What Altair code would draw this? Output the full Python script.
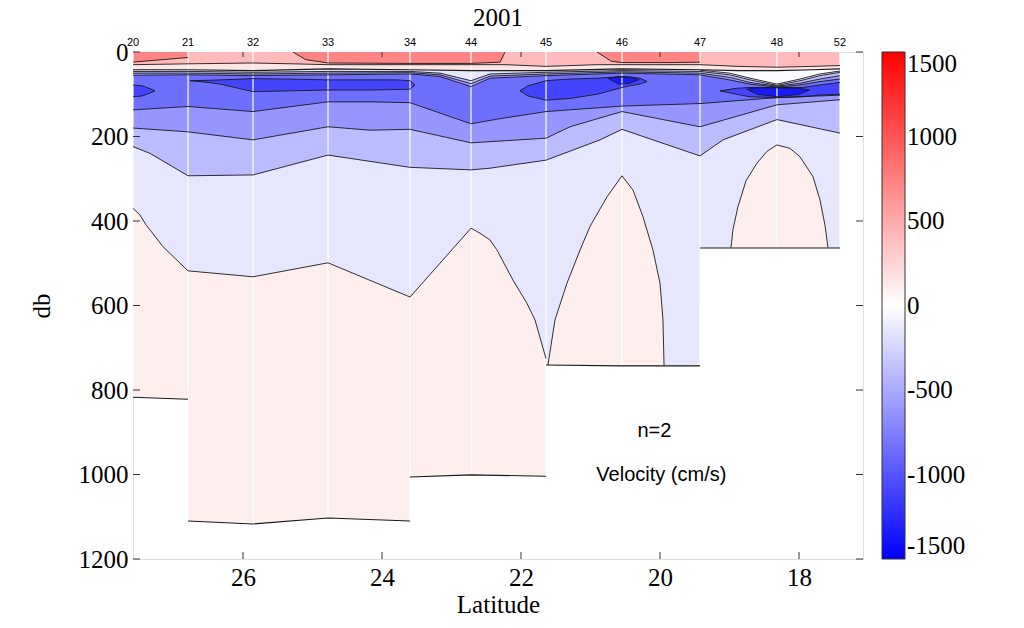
import altair as alt
import pandas as pd

# ---------------- data ----------------
TITLE = "2001"
STATIONS = ["20", "21", "32", "33", "34", "44", "45", "46", "47", "48", "52"]
STATION_LAT = [27.583, 26.791, 25.856, 24.777, 23.597, 22.719, 21.640, 20.547, 19.424, 18.317, 17.410]
STATION_BOTTOM = [817, 1110, 1117, 1103, 1110, 1004, 1004, 743, 743, 464, 464]

X_DOMAIN = [27.583, 17.079]
X_TICKS = [26, 24, 22, 20, 18]
Y_TICKS = [0, 200, 400, 600, 800, 1000, 1200]
CBAR_TICKS = [-1500, -1000, -500, 0, 500, 1000, 1500]

# bottom of the data, one piece per station interval
BOTTOM_SEGMENTS = [
    ([27.583, 26.791], [817, 822]),
    ([26.791, 25.856, 24.777, 23.597], [1110, 1117, 1103, 1110]),
    ([23.597, 22.719, 21.640], [1006, 1001, 1004]),
    ([21.640, 20.547, 19.424], [741, 743, 743]),
    ([19.424, 18.317, 17.410], [464, 464, 464]),
]

# lower boundaries of filled bands painted from the surface
B1_LAT = [27.583, 27.482, 27.400, 27.151, 26.791, 25.856, 24.777, 23.597, 22.719, 22.590, 22.446, 22.345,
          22.115, 21.914, 21.799, 21.641, 21.612, 21.511, 21.338, 21.151, 21.007, 20.763, 20.547, 20.388,
          20.245, 20.101, 20.000, 19.957, 19.942, 19.425, 19.423, 18.978, 18.950, 18.878, 18.763, 18.604,
          18.460, 18.317, 18.130, 17.986, 17.799, 17.698, 17.626, 17.583, 17.410]
B1_DB = [370, 386, 408, 461, 518, 532, 499, 580, 417, 429, 445, 469,
         540, 595, 634, 725, 741, 634, 547, 469, 413, 343, 293, 327,
         390, 469, 547, 634, 741, 743, 464, 463, 420, 366, 305, 263,
         235, 220, 228, 248, 295, 350, 410, 463, 464]

B2_LAT = [27.583, 27.338, 26.791, 25.856, 24.777, 23.597, 22.719, 22.446, 21.640, 20.863, 20.547, 19.424,
          19.094, 18.317, 17.410]
B2_DB = [224, 240, 293, 291, 244, 273, 279, 275, 256, 208, 183, 246, 208, 160, 192]

B3_LAT = [27.583, 26.791, 25.856, 24.777, 24.173, 23.597, 22.719, 21.640, 21.295, 20.547, 19.424, 18.317, 17.410]
B3_DB = [180, 189, 208, 177, 185, 183, 215, 204, 177, 141, 177, 125, 113]

B4_LAT = [27.583, 26.791, 25.856, 24.777, 24.173, 23.597, 22.719, 22.345, 21.640, 20.547, 19.424, 18.317, 17.410]
B4_DB = [137, 129, 141, 118, 118, 120, 170, 159, 141, 128, 122, 108, 102]

TOP_LAT = [27.583, 26.791, 25.856, 24.777, 23.597, 23.165, 22.719, 22.446, 21.640, 20.547, 19.424, 19.000,
           18.705, 18.317, 17.986, 17.698, 17.410]
T4_DB = [55, 54, 56, 54, 52, 58, 82, 62, 56, 50, 54, 66, 76, 83, 78, 70, 64]
T3_DB = [50, 50, 52, 50, 49, 54, 75, 57, 52, 47, 50, 60, 72, 81, 74, 64, 56]
T2_DB = [46, 46, 48, 46, 46, 50, 68, 52, 48, 44, 46, 54, 66, 79, 68, 56, 48]

W_LAT = [19.424, 19.000, 18.705, 18.317, 17.986, 17.698, 17.410]
W_DB = [43, 50, 62, 76, 64, 52, 45]

Z_LAT = [27.583, 26.791, 25.856, 24.777, 23.597, 22.719, 21.640, 20.547, 19.424, 18.878, 18.317, 17.799, 17.410]
Z_DB = [42, 42, 44, 40, 42, 44, 44, 40, 42, 44, 44, 42, 40]

P2_LAT = [27.583, 26.791, 25.856, 25.281, 24.777, 23.597, 22.719, 22.230, 21.640, 20.906, 20.547, 19.424,
          18.878, 18.317, 17.799, 17.410]
P2_DB = [30, 28, 26, 28, 30, 30, 30, 30, 34, 30, 30, 30, 34, 36, 34, 32]

RED_A_LAT = [27.583, 26.791]
RED_A_DB = [24, 13]
RED_B_LAT = [25.281, 25.100, 24.777, 23.597, 22.719, 22.300, 22.230]
RED_B_DB = [0, 18, 26, 27, 27, 24, 0]
RED_C_LAT = [20.906, 20.700, 20.547, 19.800, 19.424]
RED_C_DB = [0, 22, 25, 25, 24]

# lens-shaped cores (lats, top depth, bottom depth)
C1_LAT = [27.583, 27.450, 27.350, 27.266]
C1_TOP = [78, 80, 86, 92]
C1_BOT = [106, 104, 98, 92]
C2_LAT = [26.763, 26.500, 26.331, 25.856, 25.324, 24.777, 24.173, 23.800, 23.597, 23.525]
C2_TOP = [68, 67, 66, 63, 64, 66, 66, 66, 68, 78]
C2_BOT = [68, 72, 76, 94, 92, 90, 90, 89, 88, 78]
C3_LAT = [22.014, 21.900, 21.640, 21.295, 20.906, 20.720, 20.547, 20.432, 20.288, 20.187]
C3_TOP = [92, 80, 68, 64, 62, 60, 58, 59, 62, 70]
C3_BOT = [92, 104, 114, 110, 100, 92, 84, 80, 76, 70]
C3B_LAT = [20.750, 20.600, 20.432, 20.300]
C3B_TOP = [62, 59, 60, 65]
C3B_BOT = [62, 76, 74, 65]
C4_LAT = [19.137, 18.900, 18.705, 18.317, 17.957, 17.700, 17.410]
C4_TOP = [92, 86, 84, 84, 84, 78, 72]
C4_BOT = [92, 100, 106, 108, 106, 102, 100]
C4B_LAT = [18.750, 18.600, 18.317, 18.000, 17.850]
C4B_TOP = [88, 85, 85, 86, 90]
C4B_BOT = [88, 100, 106, 100, 90]

# band values (cm/s)
V_BASE, V_L1, V_L2, V_L3, V_L4 = 100, -150, -400, -620, -850
V_C, V_CB = -1100, -1350
V_W, V_P1, V_P2, V_P3 = -30, 150, 400, 720

NOTE_TEXT = ["n=2", "Velocity (cm/s)"]
NOTE_LAT = [20.08, 19.98]
NOTE_DB = [898, 1000]

# ---------------- chart ----------------
SERIF = "Liberation Serif"
SANS = "Liberation Sans"
PLAIN = "'' + datum.value"

xscale = alt.Scale(domain=X_DOMAIN, nice=False, zero=False)
yscale = alt.Scale(domain=[0, 1200], reverse=True, nice=False, zero=False)
X = alt.X("lat:Q", scale=xscale,
          axis=alt.Axis(values=X_TICKS, title="Latitude", labelFont=SERIF, labelFontSize=25,
                        titleFont=SERIF, titleFontSize=25, titleFontWeight="normal", tickSize=0,
                        domain=False, grid=False, labelPadding=6, titlePadding=2, labelExpr=PLAIN,
                        labelColor="black", titleColor="black"))
YAX = alt.Axis(values=Y_TICKS, title="db", labelFont=SERIF, labelFontSize=25, titleFont=SERIF,
               titleFontSize=25, titleFontWeight="normal", tickSize=0, domain=False, grid=False,
               labelPadding=5, titlePadding=24, labelExpr=PLAIN, labelColor="black", titleColor="black")
COLOR = alt.Color("v:Q",
                  scale=alt.Scale(domain=[-1500, 0, 1500], range=["#0000ff", "#ffffff", "#ff0000"],
                                  interpolate="rgb"),
                  legend=alt.Legend(title=None, orient="none", legendX=749, legendY=0,
                                    direction="vertical", gradientLength=507, gradientThickness=23,
                                    values=CBAR_TICKS, labelFont=SERIF, labelFontSize=25,
                                    labelColor="black", labelOffset=2, labelOverlap=False,
                                    labelExpr=PLAIN,
                                    gradientStrokeColor="#333", gradientStrokeWidth=1))


def band(lats, tops, bots, value):
    df = pd.DataFrame({"lat": lats, "top": tops, "bot": bots, "v": [value] * len(lats)})
    return alt.Chart(df).mark_area(interpolate="linear", clip=True, strokeWidth=0).encode(
        x=X, y=alt.Y("top:Q", scale=yscale, axis=YAX), y2="bot:Q", color=COLOR)


def surface_band(lats, bots, value):
    return band(lats, [0] * len(lats), bots, value)


def cline(lats, depths, width=0.9):
    df = pd.DataFrame({"lat": lats, "d": depths})
    return alt.Chart(df).mark_line(color="#1a1a1a", strokeWidth=width, clip=True).encode(
        x=X, y=alt.Y("d:Q", scale=yscale, axis=YAX))


# continuous bottom profile (steps at stations)
bot_lat, bot_db = [], []
for i, (la, dd) in enumerate(BOTTOM_SEGMENTS):
    la = list(la)
    if i > 0:
        la[0] = la[0] - 0.002
    bot_lat += la
    bot_db += list(dd)

layers = [
    surface_band(bot_lat, bot_db, V_BASE),
    surface_band(B1_LAT, B1_DB, V_L1),
    surface_band(B2_LAT, B2_DB, V_L2),
    surface_band(B3_LAT, B3_DB, V_L3),
    surface_band(B4_LAT, B4_DB, V_L4),
    surface_band(TOP_LAT, T4_DB, V_L3),
    surface_band(TOP_LAT, T3_DB, V_L2),
    surface_band(TOP_LAT, T2_DB, V_L1),
    surface_band(W_LAT, W_DB, V_W),
    surface_band(Z_LAT, Z_DB, V_P1),
    surface_band(P2_LAT, P2_DB, V_P2),
    surface_band(RED_A_LAT, RED_A_DB, V_P3),
    surface_band(RED_B_LAT, RED_B_DB, V_P3),
    surface_band(RED_C_LAT, RED_C_DB, V_P3),
    band(C1_LAT, C1_TOP, C1_BOT, V_C),
    band(C2_LAT, C2_TOP, C2_BOT, V_C),
    band(C3_LAT, C3_TOP, C3_BOT, V_C),
    band(C3B_LAT, C3B_TOP, C3B_BOT, V_CB),
    band(C4_LAT, C4_TOP, C4_BOT, V_C),
    band(C4B_LAT, C4B_TOP, C4B_BOT, V_CB),
]

# white station lines
st_df = pd.DataFrame({"lat": STATION_LAT, "d0": [0] * len(STATION_LAT), "d1": STATION_BOTTOM,
                      "name": STATIONS})
layers.append(alt.Chart(st_df).mark_rule(color="white", strokeWidth=1.2, clip=True).encode(
    x=X, y=alt.Y("d0:Q", scale=yscale, axis=YAX), y2="d1:Q"))

# contour lines
for la, dd in BOTTOM_SEGMENTS:
    layers.append(cline(la, dd, 1.1))
k_tip = B1_LAT.index(21.641)
k_foot = B1_LAT.index(19.942)
k_arch = B1_LAT.index(18.978)
k_arch_end = B1_LAT.index(17.583)
layers.append(cline(B1_LAT[:k_tip + 1], B1_DB[:k_tip + 1]))
layers.append(cline(B1_LAT[k_tip + 1:k_foot + 1], B1_DB[k_tip + 1:k_foot + 1]))
layers.append(cline(B1_LAT[k_arch:k_arch_end + 1], B1_DB[k_arch:k_arch_end + 1]))
layers.append(cline(B2_LAT, B2_DB))
layers.append(cline(B3_LAT, B3_DB))
layers.append(cline(B4_LAT, B4_DB))
layers.append(cline(TOP_LAT, T4_DB))
layers.append(cline(TOP_LAT, T3_DB))
layers.append(cline(TOP_LAT, T2_DB))
layers.append(cline(W_LAT, W_DB))
layers.append(cline(Z_LAT, Z_DB, 1.2))
layers.append(cline(P2_LAT, P2_DB))
layers.append(cline(RED_A_LAT, RED_A_DB))
layers.append(cline(RED_B_LAT, RED_B_DB))
layers.append(cline(RED_C_LAT, RED_C_DB))
for la, tp, bt in [(C1_LAT, C1_TOP, C1_BOT), (C2_LAT, C2_TOP, C2_BOT), (C3_LAT, C3_TOP, C3_BOT),
                   (C3B_LAT, C3B_TOP, C3B_BOT), (C4_LAT, C4_TOP, C4_BOT), (C4B_LAT, C4B_TOP, C4B_BOT)]:
    layers.append(cline(la, tp))
    layers.append(cline(la, bt))

# inward ticks on the frame
yt = pd.DataFrame({"d": Y_TICKS})
layers.append(alt.Chart(yt).mark_rule(color="#333").encode(
    y=alt.Y("d:Q", scale=yscale, axis=YAX), x=alt.value(0), x2=alt.value(7)))
layers.append(alt.Chart(yt).mark_rule(color="#333").encode(
    y=alt.Y("d:Q", scale=yscale, axis=YAX), x=alt.value(723), x2=alt.value(730)))
xt = pd.DataFrame({"lat": X_TICKS})
layers.append(alt.Chart(xt).mark_rule(color="#333").encode(
    x=X, y=alt.value(507), y2=alt.value(500)))
layers.append(alt.Chart(xt).mark_rule(color="#333").encode(
    x=X, y=alt.value(0), y2=alt.value(5)))

# station numbers above the frame
layers.append(alt.Chart(st_df).mark_text(font=SANS, fontSize=11, baseline="bottom").encode(
    x=X, y=alt.value(-4), text="name:N"))

# title
tt = pd.DataFrame({"t": [TITLE]})
layers.append(alt.Chart(tt).mark_text(font=SERIF, fontSize=25, baseline="middle", align="center",
                                      color="black").encode(
    x=alt.value(365), y=alt.value(-34), text="t:N"))

# annotations
nt = pd.DataFrame({"lat": NOTE_LAT, "d": NOTE_DB, "t": NOTE_TEXT})
layers.append(alt.Chart(nt).mark_text(font=SANS, fontSize=20, baseline="middle", align="center").encode(
    x=X, y=alt.Y("d:Q", scale=yscale, axis=YAX), text="t:N"))

chart = alt.layer(*layers).properties(
    width=730, height=507,
    autosize=alt.AutoSizeParams(type="none"),
    padding={"left": 133, "top": 52, "right": 161, "bottom": 69},
).configure_view(stroke="#444", strokeWidth=1.2).configure(background="white")

chart.save("out.html", embed_options={"renderer": "svg", "actions": False})
